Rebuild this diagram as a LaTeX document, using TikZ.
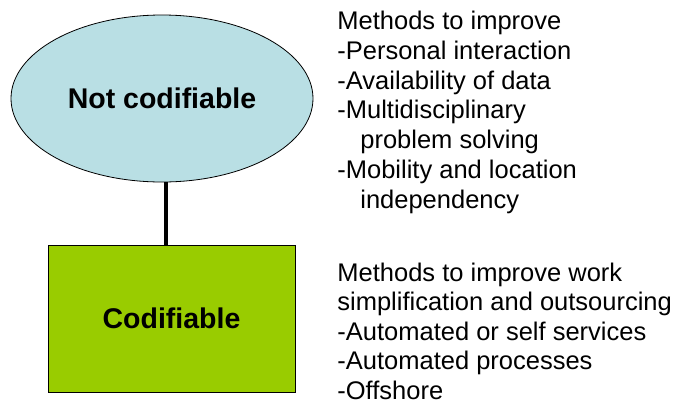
\documentclass[tikz,border=0pt]{standalone}
\usepackage{fontspec}
\setmainfont{Liberation Sans}
\usepackage{tikz}
\usetikzlibrary{shapes.geometric}
\definecolor{cloudblue}{RGB}{185,223,228}
\definecolor{codegreen}{RGB}{153,204,0}
\newcommand\Ind{\hspace*{0.9em}}

\begin{document}
\begin{tikzpicture}[x=1pt,y=-1pt,line width=0.8pt]

  \tikzstyle{area}=[draw,inner sep=0pt,font=\fontsize{28.5}{32}\selectfont\bfseries]
  \tikzstyle{notes}=[anchor=north west,inner sep=0pt,align=left,
                     font=\fontsize{25.5}{29.5}\selectfont]
  \tikzstyle{link}=[line width=3.5pt]

  \useasboundingbox (0,0) rectangle (681,405);

  \node[area,ellipse,fill=cloudblue,minimum width=302pt,minimum height=167pt]
        (NC) at (162,98.5)  {Not codifiable};
  \node[area,rectangle,fill=codegreen,minimum width=247pt,minimum height=147pt]
        (CD) at (171.5,318.5) {Codifiable};

  \node[notes,font=\fontsize{25.5}{29.8}\selectfont] (NCtxt) at (337,10.7)
        {Methods to improve \\ -Personal interaction \\
        -Availability of data \\ -Multidisciplinary \\ \Ind problem solving \\
        -Mobility and location \\ \Ind independency};
  \node[notes] (CDtxt) at (337,262.4) {Methods to improve work \\
        simplification and outsourcing \\ -Automated or self services \\
        -Automated processes \\ -Offshore};

  \draw[link] ([xshift=4pt]NC.south) -- ([xshift=4pt]NC.south |- CD.north);
\end{tikzpicture}
\end{document}
